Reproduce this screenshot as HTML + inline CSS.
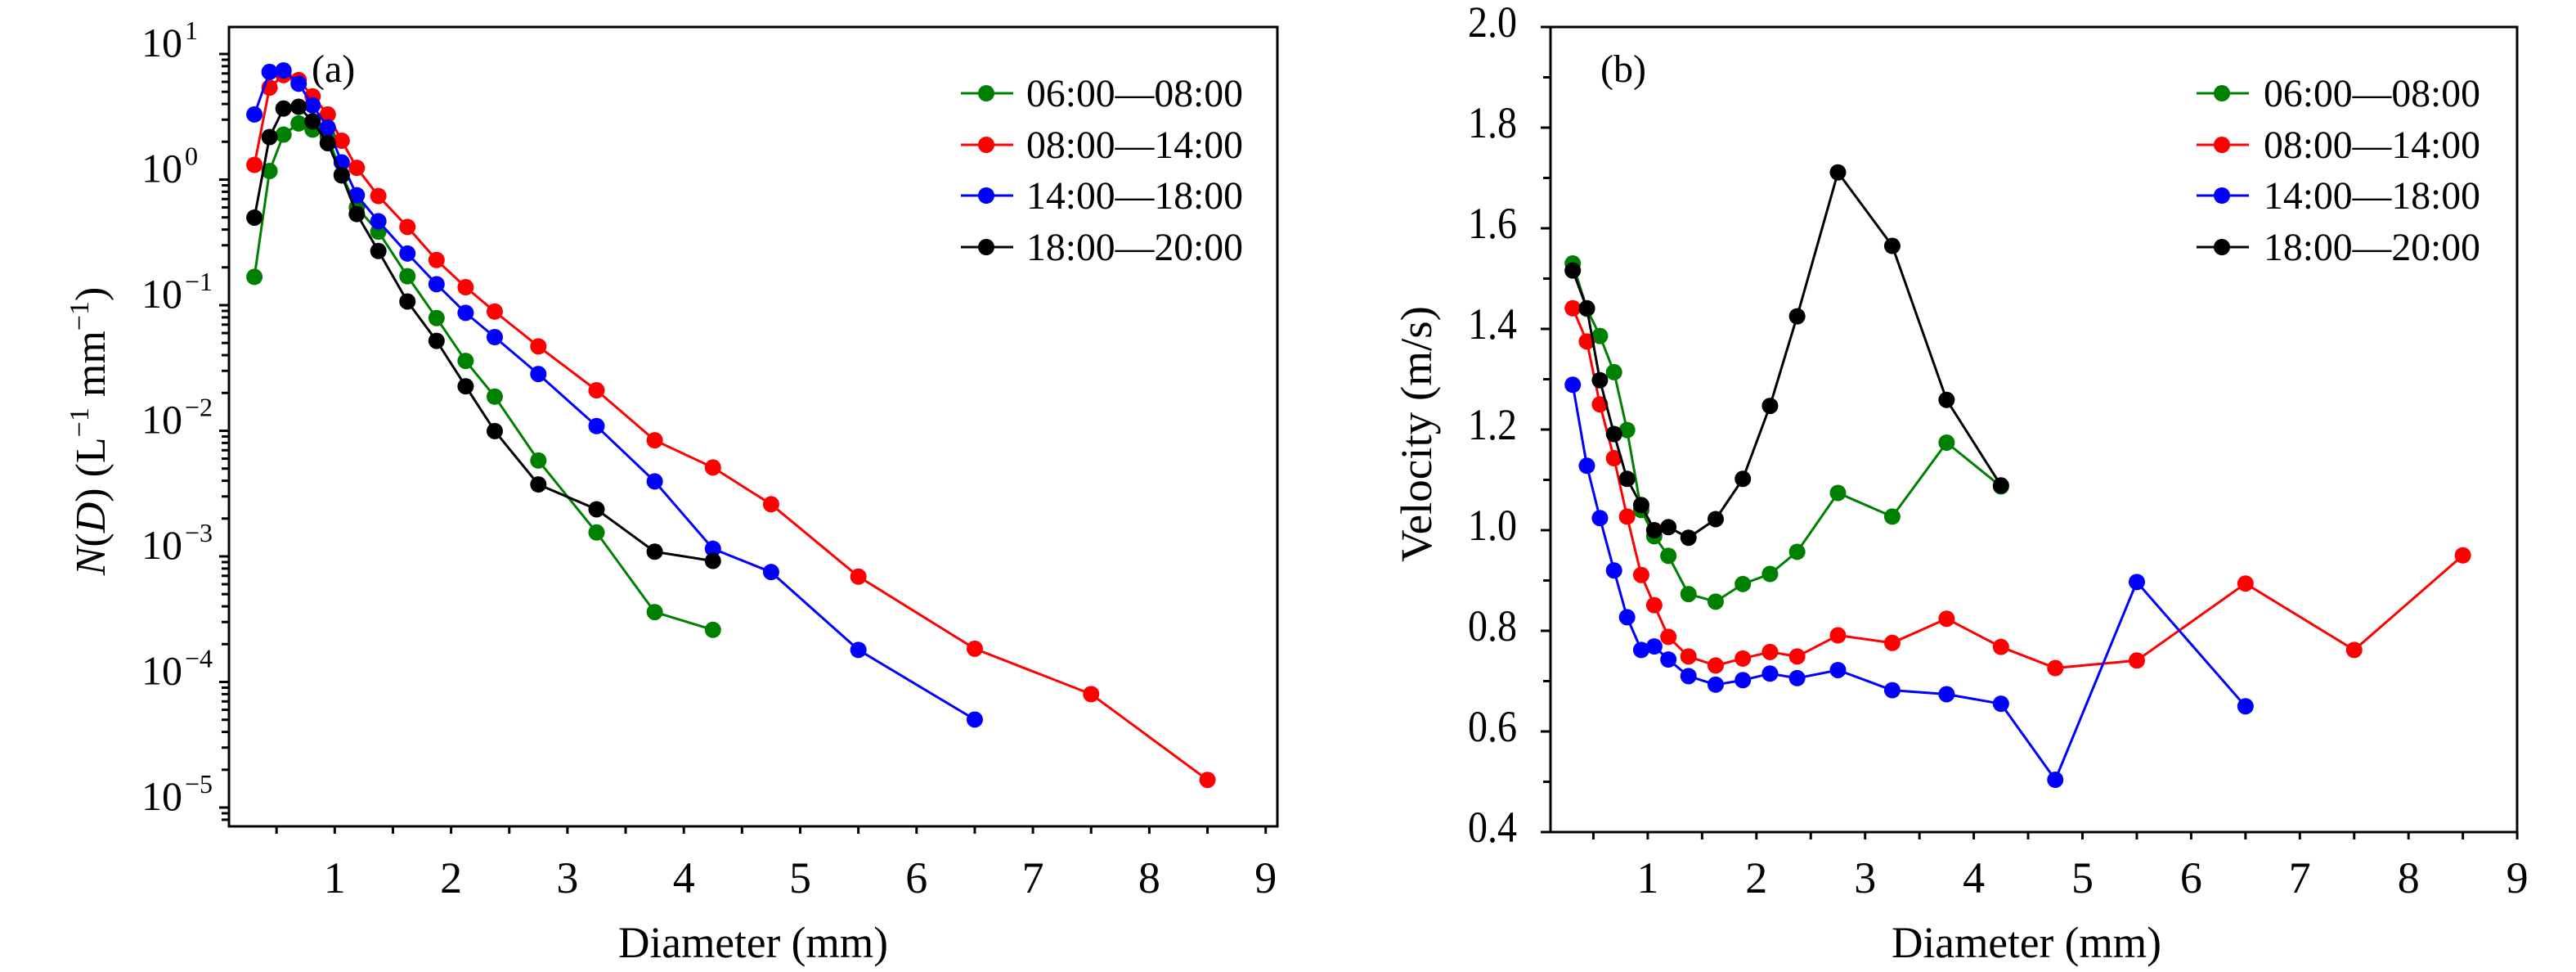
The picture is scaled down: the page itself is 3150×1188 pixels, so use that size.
<!DOCTYPE html>
<html><head><meta charset="utf-8">
<style>
html,body{margin:0;padding:0;background:#fff;}
svg{display:block;font-family:"Liberation Serif",serif;}
</style></head>
<body>
<svg id="fig" width="3150" height="1188" viewBox="0 0 3150 1188" xmlns="http://www.w3.org/2000/svg">
<g id="pa"></g>
<g id="pb"></g>
</svg>
<script>
const diameters = [0.31,0.44,0.56,0.69,0.81,0.94,1.06,1.19,1.375,1.625,1.875,2.125,2.375,2.75,3.25,3.75,4.25,4.75,5.5,6.5,7.5,8.5];
const seriesNames = ["06:00\u201408:00","08:00\u201414:00","14:00\u201418:00","18:00\u201420:00"];
const seriesColors = ["#008000","#ff0000","#0000ff","#000000"];
const ndGreen = [0.168,1.17,2.28,2.8,2.5,2.2,1.1,0.6,0.385,0.17,0.079,0.036,0.0187,0.0058,0.00155,0.00036,0.00026];
const ndRed = [1.31,5.4,6.8,6.2,4.6,3.3,2.04,1.24,0.74,0.42,0.229,0.139,0.089,0.047,0.021,0.0084,0.0051,0.0026,0.00069,0.000184,0.00008,0.0000166];
const ndBlue = [3.3,7.2,7.4,5.8,3.9,2.6,1.37,0.75,0.466,0.258,0.147,0.0869,0.0557,0.0283,0.0109,0.00395,0.00115,0.00075,0.00018,0.0000502];
const ndBlack = [0.498,2.18,3.68,3.8,2.91,1.95,1.08,0.532,0.27,0.107,0.052,0.0226,0.00995,0.00374,0.00237,0.00109,0.00092];
const vGreen = [1.53,1.44,1.386,1.314,1.199,1.04,0.988,0.949,0.873,0.858,0.893,0.913,0.957,1.074,1.027,1.174,1.087];
const vRed = [1.441,1.375,1.25,1.143,1.027,0.911,0.851,0.788,0.749,0.731,0.745,0.758,0.749,0.791,0.776,0.824,0.768,0.726,0.741,0.894,0.762,0.95];
const vBlue = [1.289,1.128,1.024,0.92,0.827,0.762,0.769,0.743,0.71,0.693,0.702,0.715,0.706,0.722,0.682,0.674,0.655,0.504,0.897,0.65];
const vBlack = [1.516,1.441,1.298,1.191,1.102,1.05,1.0,1.006,0.985,1.022,1.102,1.247,1.425,1.711,1.565,1.259,1.089];
const xTicks = [1,2,3,4,5,6,7,8,9];
const logTicks = [1,0,-1,-2,-3,-4,-5];
const vTicks = [0.4,0.6,0.8,1.0,1.2,1.4,1.6,1.8,2.0];

const NS="http://www.w3.org/2000/svg";
function mk(parent,tag,attrs,text){const e=document.createElementNS(NS,tag);for(const k in attrs)e.setAttribute(k,attrs[k]);if(text!==undefined)e.textContent=text;parent.appendChild(e);return e;}

const A={L:280,R:1562,T:33,B:1010};
const ax=d=>267+d*142.3;
function ay(v){return 66+(1-Math.log10(v))*153.5;}
const B={L:1896,R:3078,T:33,B:1017};
const bx=d=>1882+d*132.9;
const by=v=>B.B-(v-0.4)/1.6*(B.B-B.T);

function frame(g,P){
  const r=mk(g,'rect',{x:P.L,y:P.T,width:P.R-P.L,height:P.B-P.T,fill:'none',stroke:'#000','stroke-width':3});
  
  
}
function xAxis(g,P,xf,title,cx){
  for(let t=0.5;t<=9.001;t+=0.5){
    const x=xf(t); if(x<P.L+2)continue;
    mk(g,'line',{x1:x,x2:x,y1:P.B,y2:P.B+9,stroke:'#000','stroke-width':3});
  }
  xTicks.forEach(t=>{
    const tx=mk(g,'text',{x:xf(t),y:1091,'font-size':54,'text-anchor':'middle'},String(t));
    
    
  });
  const tt=mk(g,'text',{x:cx-165,y:1170,'font-size':54,textLength:330,lengthAdjust:'spacingAndGlyphs'},title);
  
  
}
function series(g,xs,ys,xf,yf,color,name){
  const sg=mk(g,'g',{});
  
  
  const pts=ys.map((v,i)=>xf(xs[i]).toFixed(1)+','+yf(v).toFixed(1)).join(' ');
  mk(sg,'polyline',{points:pts,fill:'none',stroke:color,'stroke-width':3});
  ys.forEach((v,i)=>{
    const c=mk(sg,'circle',{cx:xf(xs[i]),cy:yf(v),r:10,fill:color});
    
    
  });
}
function legend(g,x0,tx){
  const rows=[114,177,239,302];
  seriesNames.forEach((n,i)=>{
    const lg=mk(g,'g',{});
    
    
    mk(lg,'line',{x1:x0,x2:x0+64,y1:rows[i],y2:rows[i],stroke:seriesColors[i],'stroke-width':3});
    mk(lg,'circle',{cx:x0+31,cy:rows[i],r:10,fill:seriesColors[i]});
    mk(lg,'text',{x:tx,y:rows[i]+16,'font-size':48,textLength:265,lengthAdjust:'spacingAndGlyphs'},n);
  });
}

// ---- Panel A
const ga=document.getElementById('pa');
frame(ga,A);
for(let e=-6;e<=1;e++){
  for(let m=1;m<=9;m++){
    const v=m*Math.pow(10,e); const y=ay(v);
    if(y<A.T+2||y>A.B-2)continue;
    mk(ga,'line',{x1:A.L-(m===1?12:9),x2:A.L,y1:y,y2:y,stroke:'#000','stroke-width':3});
  }
}
logTicks.forEach(p=>{
  const y=ay(Math.pow(10,p));
  const t=mk(ga,'text',{x:223,y:y+3,'font-size':50,'text-anchor':'end'},'10');
  
  
  mk(ga,'text',{x:226,y:y-18,'font-size':32},p<0?'\u2212'+Math.abs(p):String(p));
});
xAxis(ga,A,ax,'Diameter (mm)',921);
const yta=mk(ga,'text',{x:0,y:0,'font-size':52,'text-anchor':'middle',transform:'translate(128,527) rotate(-90)'});


yta.innerHTML='<tspan font-style="italic">N</tspan>(<tspan font-style="italic">D</tspan>) (L<tspan font-size="34" dy="-20">\u22121</tspan><tspan dy="20"> mm</tspan><tspan font-size="34" dy="-20">\u22121</tspan><tspan dy="20">)</tspan>';
[ndGreen,ndRed,ndBlue,ndBlack].forEach((arr,i)=>series(ga,diameters,arr,ax,ay,seriesColors[i],'a-'+i));
const la=mk(ga,'text',{x:381,y:100,'font-size':48},'(a)');


legend(ga,1175,1255);

// ---- Panel B
const gb=document.getElementById('pb');
frame(gb,B);
for(let v=0.4;v<=2.0001;v+=0.1){
  const y=by(v); const major=Math.round(v*10)%2===0;
  mk(gb,'line',{x1:B.L-(major?12:9),x2:B.L,y1:y,y2:y,stroke:'#000','stroke-width':3});
}
vTicks.forEach(v=>{
  const t=mk(gb,'text',{x:1855,y:by(v)+12,'font-size':54,'text-anchor':'end',textLength:60,lengthAdjust:'spacingAndGlyphs'},v.toFixed(1));
  
  
});
xAxis(gb,B,bx,'Diameter (mm)',2478);
const ytb=mk(gb,'text',{x:-157,y:0,'font-size':54,transform:'translate(1750,530) rotate(-90)',textLength:313,lengthAdjust:'spacingAndGlyphs'},'Velocity (m/s)');


[vGreen,vRed,vBlue,vBlack].forEach((arr,i)=>series(gb,diameters,arr,bx,by,seriesColors[i],'b-'+i));
const lb=mk(gb,'text',{x:1957,y:100,'font-size':48},'(b)');


legend(gb,2686,2768);
</script>
</body></html>
